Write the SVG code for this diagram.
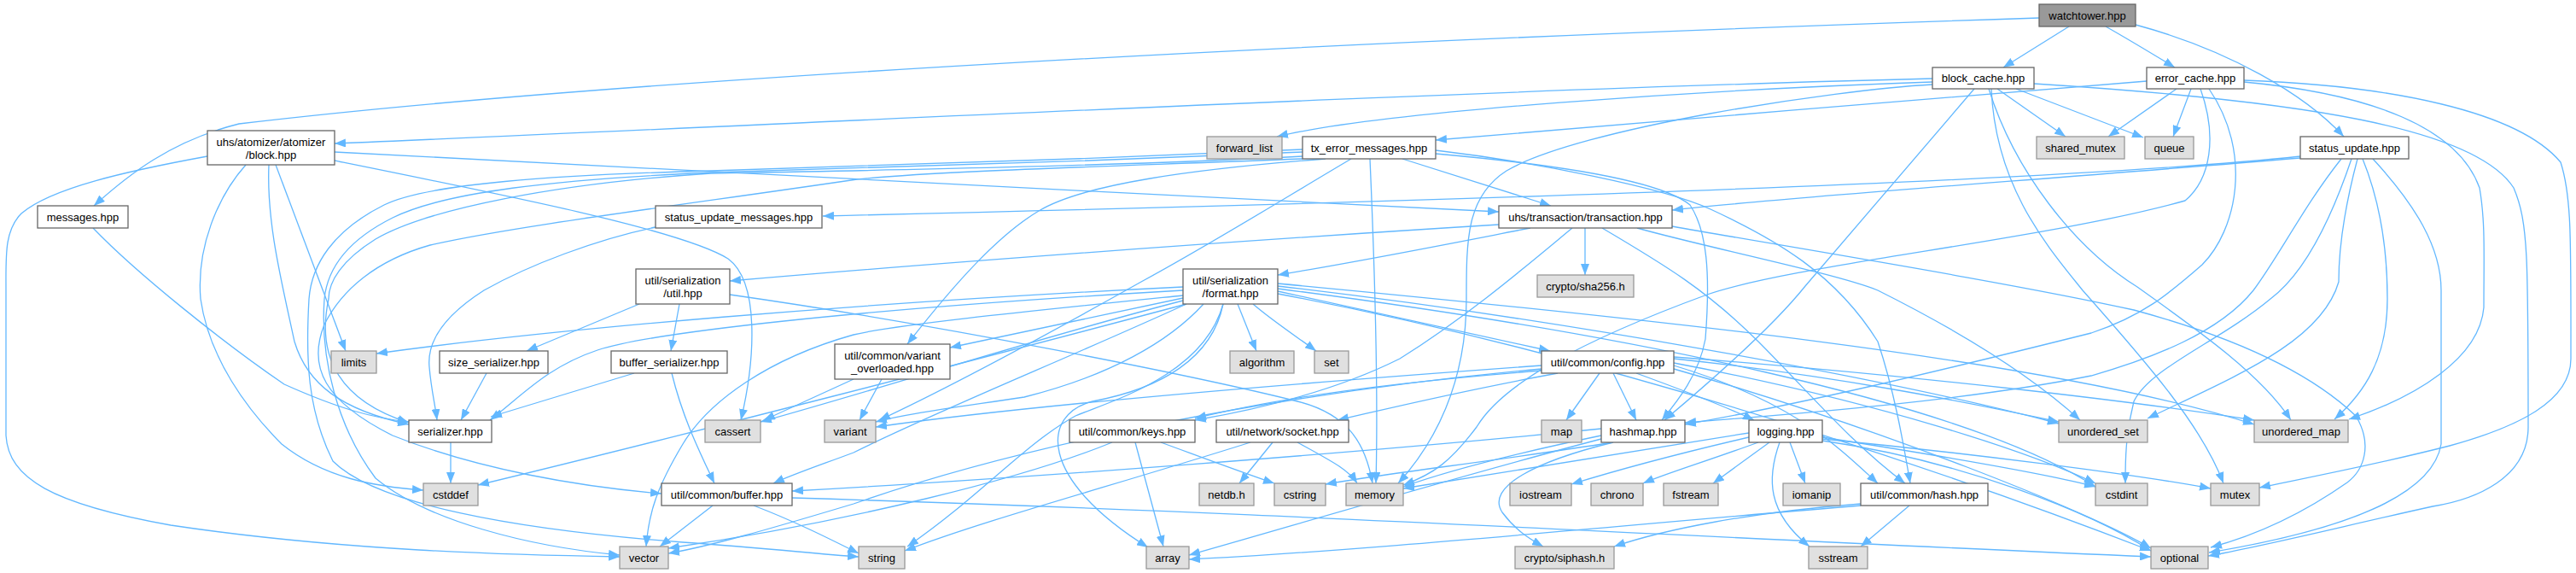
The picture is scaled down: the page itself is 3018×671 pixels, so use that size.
<svg xmlns="http://www.w3.org/2000/svg" width="3018" height="671" viewBox="0 0 3018 671">
<style>
.e{fill:none;stroke:#63b8ff;stroke-width:1.3;marker-end:url(#a)}
.n rect{fill:#fff;stroke:#666;stroke-width:1.3}
.x rect{fill:#e0e0e0;stroke:#999;stroke-width:1.3}
.r rect{fill:#999;stroke:#666;stroke-width:1.3}
text{font-family:"Liberation Sans",Arial,Helvetica,sans-serif;font-size:13px;text-anchor:middle;fill:#000}
</style>
<defs>
<marker id="a" viewBox="0 0 13 10" refX="13" refY="5" markerWidth="13" markerHeight="10" markerUnits="userSpaceOnUse" orient="auto"><path d="M0,0 L13,5 L0,10 z" fill="#63b8ff"/></marker>
</defs>
<rect width="3018" height="671" fill="#fff"/>
<g id="edges">
<path class="e" d="M2424,31 L2347,79"/>
<path class="e" d="M2467,31 C2490,44 2520,62 2548,79"/>
<path class="e" d="M2502,29 C2610,58 2700,110 2746,160"/>
<path class="e" d="M2389,21 C1500,50 700,95 280,145 C200,165 150,205 110,241"/>
<path class="e" d="M2264,92 C1700,106 900,147 392,168"/>
<path class="e" d="M2264,96 C2000,105 1620,130 1496,160"/>
<path class="e" d="M2340,104 L2420,160"/>
<path class="e" d="M2362,104 L2511,161"/>
<path class="e" d="M2313,104 L2115,335 C2075,385 2000,450 1950,492"/>
<path class="e" d="M2330,104 C2360,200 2430,290 2504,336 C2580,390 2650,440 2684,492"/>
<path class="e" d="M2333,104 C2338,220 2400,290 2440,340 C2520,430 2580,500 2605,566"/>
<path class="e" d="M2383,98 C2700,118 2900,150 2945,220 C2962,260 2962,300 2962,500 C2962,560 2900,585 2850,593 C2750,615 2650,640 2587,651"/>
<path class="e" d="M2264,99 C2150,105 1850,150 1765,200 C1718,230 1718,280 1718,350 C1718,450 1680,520 1638,566"/>
<path class="e" d="M2515,95 C2300,112 1900,146 1682,164"/>
<path class="e" d="M2550,104 L2470,160"/>
<path class="e" d="M2567,104 L2546,160"/>
<path class="e" d="M2588,104 C2640,180 2620,270 2580,310 C2540,345 2510,370 2450,390 C2250,440 2100,475 1974,497"/>
<path class="e" d="M2578,104 C2598,160 2590,210 2560,235 C2400,280 2100,310 2000,345 C1850,400 1760,450 1730,500 C1700,540 1680,555 1644,568"/>
<path class="e" d="M2629,96 C2780,110 2880,150 2905,220 C2912,260 2910,300 2910,360 C2905,420 2830,465 2752,491"/>
<path class="e" d="M2629,94 C2800,100 2950,130 3000,190 C3013,230 3012,280 3012,420 C3012,470 2950,500 2870,522 C2780,545 2700,560 2647,571"/>
<path class="e" d="M2695,183 C2400,215 1600,238 964,253"/>
<path class="e" d="M2695,185 C2400,210 2100,230 1959,246"/>
<path class="e" d="M2780,186 C2830,240 2860,290 2860,340 L2860,520 C2850,580 2750,620 2588,647"/>
<path class="e" d="M2768,186 C2790,240 2797,300 2797,350 C2797,420 2770,460 2735,491"/>
<path class="e" d="M2762,186 C2745,250 2740,300 2740,330 C2720,400 2620,440 2516,490"/>
<path class="e" d="M2743,186 C2700,240 2670,300 2640,340 C2600,390 2520,420 2450,440 C2300,470 2100,485 1974,495"/>
<path class="e" d="M2755,186 C2730,260 2700,320 2660,350 C2600,400 2520,430 2500,470 C2490,510 2490,540 2490,566"/>
<path class="e" d="M1756,263 C1400,285 1050,312 855,329"/>
<path class="e" d="M1793,267 C1700,285 1600,305 1497,322"/>
<path class="e" d="M1857,267 L1857,322"/>
<path class="e" d="M1842,267 C1790,310 1720,370 1640,420 C1560,460 1470,480 1400,492"/>
<path class="e" d="M1877,267 C1950,310 2000,340 2060,400 C2120,460 2170,520 2232,566"/>
<path class="e" d="M1918,267 C2000,290 2150,320 2200,340 C2300,390 2380,440 2437,492"/>
<path class="e" d="M1959,265 C2100,290 2350,330 2500,363 C2600,390 2700,430 2760,487 C2780,520 2770,550 2750,565 C2700,600 2650,625 2590,641"/>
<path class="e" d="M1643,186 L1817,241"/>
<path class="e" d="M1605,186 C1610,300 1615,450 1612,566"/>
<path class="e" d="M1553,186 C1400,198 1270,215 1217,247 C1170,275 1120,330 1063,403"/>
<path class="e" d="M1583,186 C1500,235 1420,285 1337,330 C1230,390 1120,450 1030,492"/>
<path class="e" d="M1682,180 C1850,195 1950,215 1980,240 C2000,270 2004,320 1998,397 C1990,440 1965,470 1947,492"/>
<path class="e" d="M1682,176 C1800,190 1950,220 2004,245 C2080,280 2150,320 2200,400 C2220,460 2230,520 2238,566"/>
<path class="e" d="M1526,183 C1300,195 1000,200 833,203 C650,215 500,245 440,280 C400,305 385,330 385,350 C370,420 400,470 479,495"/>
<path class="e" d="M1526,186 C1300,195 1100,200 1004,210 C800,240 600,265 504,287 C440,305 400,340 380,380 C360,430 380,470 460,510 C560,550 680,570 775,578"/>
<path class="e" d="M1526,178 C1300,188 1000,198 833,202 C650,210 520,225 460,255 C400,285 383,320 380,350 C375,420 395,500 440,560 C500,610 620,640 726,650"/>
<path class="e" d="M1526,175 C1300,185 1000,196 833,200 C650,205 500,215 450,240 C390,270 365,310 362,350 C358,420 360,480 390,540 C440,590 600,620 800,635 C900,642 950,648 1006,652"/>
<path class="e" d="M392,178 C700,195 1300,225 1756,248"/>
<path class="e" d="M392,188 C600,230 800,270 853,303 C890,330 885,420 868,492"/>
<path class="e" d="M288,193 C255,230 230,290 235,350 C245,420 290,480 330,520 C380,560 440,570 496,574"/>
<path class="e" d="M315,193 C312,260 330,330 345,400 C360,450 400,480 479,497"/>
<path class="e" d="M323,193 L405,411"/>
<path class="e" d="M243,183 C150,200 60,220 25,250 C5,270 7,300 7,340 L7,510 C10,560 60,590 200,615 C400,645 600,650 726,652"/>
<path class="e" d="M109,267 C160,320 260,400 333,450 C400,480 440,490 479,494"/>
<path class="e" d="M768,266 C700,280 620,310 567,340 C520,370 500,400 503,430 C505,455 510,475 512,492"/>
<path class="e" d="M749,356 L617,411"/>
<path class="e" d="M796,356 L786,411"/>
<path class="e" d="M855,345 C1100,380 1400,440 1520,470 C1580,485 1600,520 1608,566"/>
<path class="e" d="M1386,336 C1000,355 650,385 441,414"/>
<path class="e" d="M1386,340 C1000,362 760,390 700,410 C640,430 610,465 574,492"/>
<path class="e" d="M1386,349 L1113,407"/>
<path class="e" d="M1386,352 C1200,400 1050,450 891,494"/>
<path class="e" d="M1390,356 C1150,420 800,510 560,568"/>
<path class="e" d="M1386,346 C1200,365 1050,380 1000,392 C900,420 830,470 800,520 C770,570 760,600 757,640"/>
<path class="e" d="M1390,356 C1250,420 1100,480 1000,530 C960,545 930,555 906,566"/>
<path class="e" d="M1410,356 C1370,400 1300,440 1200,465 C1100,480 1060,485 1026,494"/>
<path class="e" d="M1433,356 C1410,440 1300,470 1260,487 C1200,520 1150,580 1063,640"/>
<path class="e" d="M1433,356 C1420,420 1360,455 1280,470 C1220,485 1215,560 1345,641"/>
<path class="e" d="M1450,356 L1472,411"/>
<path class="e" d="M1468,356 C1490,375 1520,395 1542,411"/>
<path class="e" d="M1497,341 L1816,411"/>
<path class="e" d="M1497,335 C1800,370 2200,440 2412,496"/>
<path class="e" d="M1497,332 C1900,370 2400,420 2641,497"/>
<path class="e" d="M1497,338 C1900,390 2300,470 2455,570"/>
<path class="e" d="M1497,344 C1900,420 2300,560 2520,645"/>
<path class="e" d="M1806,428 C1500,450 1200,475 1026,500"/>
<path class="e" d="M1806,432 C1500,460 1200,520 1000,590 C900,620 830,640 783,648"/>
<path class="e" d="M1806,434 C1600,450 1480,470 1400,490"/>
<path class="e" d="M1825,437 C1700,460 1620,480 1567,492"/>
<path class="e" d="M1874,437 L1835,492"/>
<path class="e" d="M1890,437 L1917,492"/>
<path class="e" d="M1917,437 C1980,460 2030,480 2055,492"/>
<path class="e" d="M1961,428 C2100,470 2150,520 2200,566"/>
<path class="e" d="M1961,420 C2150,440 2300,470 2412,494"/>
<path class="e" d="M1961,418 C2250,440 2500,470 2641,492"/>
<path class="e" d="M1961,425 C2200,470 2380,530 2455,566"/>
<path class="e" d="M1961,432 C2200,500 2450,600 2520,642"/>
<path class="e" d="M1303,518 C1200,560 1000,610 783,642"/>
<path class="e" d="M1330,518 L1363,640"/>
<path class="e" d="M1360,518 C1420,540 1460,555 1493,566"/>
<path class="e" d="M1491,518 L1452,566"/>
<path class="e" d="M1520,518 C1560,540 1580,550 1590,566"/>
<path class="e" d="M1465,518 C1300,570 1150,610 1060,645"/>
<path class="e" d="M1876,502 C1600,530 1200,560 928,575"/>
<path class="e" d="M1876,510 C1780,530 1700,550 1644,570"/>
<path class="e" d="M1890,518 C1750,540 1620,555 1553,567"/>
<path class="e" d="M1890,518 C1800,540 1740,570 1760,600 C1775,620 1790,630 1808,640"/>
<path class="e" d="M1876,514 C1700,560 1500,620 1393,650"/>
<path class="e" d="M2049,507 C1900,530 1750,555 1644,572"/>
<path class="e" d="M2049,512 C1950,535 1880,555 1841,567"/>
<path class="e" d="M2060,518 C2000,540 1950,555 1925,566"/>
<path class="e" d="M2073,518 L2007,566"/>
<path class="e" d="M2097,518 L2115,566"/>
<path class="e" d="M2085,518 C2070,560 2070,600 2120,640"/>
<path class="e" d="M2135,512 C2250,530 2400,555 2455,570"/>
<path class="e" d="M2135,514 C2300,530 2500,555 2590,572"/>
<path class="e" d="M2135,516 C2300,540 2450,600 2520,645"/>
<path class="e" d="M2180,590 C2050,600 1950,620 1891,640"/>
<path class="e" d="M2237,592 L2180,640"/>
<path class="e" d="M2180,592 C1900,615 1600,645 1393,655"/>
<path class="e" d="M835,592 L773,640"/>
<path class="e" d="M883,592 C930,610 970,630 1006,648"/>
<path class="e" d="M928,583 C1500,600 2000,630 2520,652"/>
<path class="e" d="M743,437 L575,488"/>
<path class="e" d="M787,437 C800,490 820,530 837,566"/>
<path class="e" d="M570,437 L540,492"/>
<path class="e" d="M528,518 L528,566"/>
<path class="e" d="M1000,444 L895,492"/>
<path class="e" d="M1033,444 L1007,492"/>
</g>
<g id="watchtower" class="r"><rect x="2389" y="5" width="113" height="26"/><text x="2445.5" y="22.5">watchtower.hpp</text></g>
<g id="block_cache" class="n"><rect x="2264" y="79" width="119" height="25"/><text x="2323.5" y="96">block_cache.hpp</text></g>
<g id="error_cache" class="n"><rect x="2515" y="79" width="114" height="25"/><text x="2572" y="96">error_cache.hpp</text></g>
<g id="atomizer_block" class="n"><rect x="243" y="153" width="149" height="40"/><text x="317.5" y="171">uhs/atomizer/atomizer</text><text x="317.5" y="186">/block.hpp</text></g>
<g id="tx_error_messages" class="n"><rect x="1526" y="160" width="156" height="26"/><text x="1604" y="177.5">tx_error_messages.hpp</text></g>
<g id="status_update" class="n"><rect x="2695" y="160" width="127" height="26"/><text x="2758.5" y="177.5">status_update.hpp</text></g>
<g id="messages" class="n"><rect x="44" y="241" width="106" height="26"/><text x="97" y="258.5">messages.hpp</text></g>
<g id="status_update_messages" class="n"><rect x="768" y="241" width="195" height="26"/><text x="865.5" y="258.5">status_update_messages.hpp</text></g>
<g id="transaction" class="n"><rect x="1756" y="241" width="203" height="26"/><text x="1857.5" y="258.5">uhs/transaction/transaction.hpp</text></g>
<g id="ser_util" class="n"><rect x="745" y="315" width="110" height="41"/><text x="800" y="333">util/serialization</text><text x="800" y="348">/util.hpp</text></g>
<g id="format" class="n"><rect x="1386" y="315" width="111" height="41"/><text x="1441.5" y="333">util/serialization</text><text x="1441.5" y="348">/format.hpp</text></g>
<g id="size_serializer" class="n"><rect x="515" y="411" width="127" height="26"/><text x="578.5" y="428.5">size_serializer.hpp</text></g>
<g id="buffer_serializer" class="n"><rect x="716" y="411" width="136" height="26"/><text x="784" y="428.5">buffer_serializer.hpp</text></g>
<g id="variant_overloaded" class="n"><rect x="978" y="403" width="135" height="41"/><text x="1045.5" y="421">util/common/variant</text><text x="1045.5" y="436">_overloaded.hpp</text></g>
<g id="config" class="n"><rect x="1806" y="411" width="155" height="26"/><text x="1883.5" y="428.5">util/common/config.hpp</text></g>
<g id="serializer" class="n"><rect x="479" y="492" width="97" height="26"/><text x="527.5" y="509.5">serializer.hpp</text></g>
<g id="keys" class="n"><rect x="1253" y="492" width="147" height="26"/><text x="1326.5" y="509.5">util/common/keys.hpp</text></g>
<g id="socket" class="n"><rect x="1425" y="492" width="155" height="26"/><text x="1502.5" y="509.5">util/network/socket.hpp</text></g>
<g id="hashmap" class="n"><rect x="1876" y="492" width="98" height="26"/><text x="1925" y="509.5">hashmap.hpp</text></g>
<g id="logging" class="n"><rect x="2049" y="492" width="86" height="26"/><text x="2092" y="509.5">logging.hpp</text></g>
<g id="buffer" class="n"><rect x="775" y="566" width="153" height="26"/><text x="851.5" y="583.5">util/common/buffer.hpp</text></g>
<g id="hash" class="n"><rect x="2180" y="566" width="149" height="26"/><text x="2254.5" y="583.5">util/common/hash.hpp</text></g>
<g id="forward_list" class="x"><rect x="1414" y="160" width="88" height="26"/><text x="1458" y="177.5">forward_list</text></g>
<g id="shared_mutex" class="x"><rect x="2386" y="160" width="103" height="26"/><text x="2437.5" y="177.5">shared_mutex</text></g>
<g id="queue" class="x"><rect x="2513" y="160" width="57" height="26"/><text x="2541.5" y="177.5">queue</text></g>
<g id="sha256" class="x"><rect x="1801" y="322" width="113" height="26"/><text x="1857.5" y="339.5">crypto/sha256.h</text></g>
<g id="limits" class="x"><rect x="388" y="411" width="53" height="26"/><text x="414.5" y="428.5">limits</text></g>
<g id="algorithm" class="x"><rect x="1441" y="411" width="75" height="26"/><text x="1478.5" y="428.5">algorithm</text></g>
<g id="set" class="x"><rect x="1540" y="411" width="40" height="26"/><text x="1560" y="428.5">set</text></g>
<g id="cassert" class="x"><rect x="826" y="492" width="65" height="26"/><text x="858.5" y="509.5">cassert</text></g>
<g id="variant" class="x"><rect x="966" y="492" width="60" height="26"/><text x="996" y="509.5">variant</text></g>
<g id="map" class="x"><rect x="1806" y="492" width="47" height="26"/><text x="1829.5" y="509.5">map</text></g>
<g id="unordered_set" class="x"><rect x="2412" y="492" width="104" height="26"/><text x="2464" y="509.5">unordered_set</text></g>
<g id="unordered_map" class="x"><rect x="2641" y="492" width="110" height="26"/><text x="2696" y="509.5">unordered_map</text></g>
<g id="cstddef" class="x"><rect x="496" y="566" width="64" height="26"/><text x="528" y="583.5">cstddef</text></g>
<g id="netdb" class="x"><rect x="1405" y="566" width="64" height="26"/><text x="1437" y="583.5">netdb.h</text></g>
<g id="cstring" class="x"><rect x="1493" y="566" width="60" height="26"/><text x="1523" y="583.5">cstring</text></g>
<g id="memory" class="x"><rect x="1577" y="566" width="67" height="26"/><text x="1610.5" y="583.5">memory</text></g>
<g id="iostream" class="x"><rect x="1769" y="566" width="72" height="26"/><text x="1805" y="583.5">iostream</text></g>
<g id="chrono" class="x"><rect x="1864" y="566" width="61" height="26"/><text x="1894.5" y="583.5">chrono</text></g>
<g id="fstream" class="x"><rect x="1949" y="566" width="64" height="26"/><text x="1981" y="583.5">fstream</text></g>
<g id="iomanip" class="x"><rect x="2089" y="566" width="67" height="26"/><text x="2122.5" y="583.5">iomanip</text></g>
<g id="cstdint" class="x"><rect x="2455" y="566" width="61" height="26"/><text x="2485.5" y="583.5">cstdint</text></g>
<g id="mutex" class="x"><rect x="2590" y="566" width="57" height="26"/><text x="2618.5" y="583.5">mutex</text></g>
<g id="vector" class="x"><rect x="726" y="640" width="57" height="26"/><text x="754.5" y="657.5">vector</text></g>
<g id="string" class="x"><rect x="1006" y="640" width="54" height="26"/><text x="1033" y="657.5">string</text></g>
<g id="array" class="x"><rect x="1343" y="640" width="50" height="26"/><text x="1368" y="657.5">array</text></g>
<g id="siphash" class="x"><rect x="1775" y="640" width="116" height="26"/><text x="1833" y="657.5">crypto/siphash.h</text></g>
<g id="sstream" class="x"><rect x="2119" y="640" width="69" height="26"/><text x="2153.5" y="657.5">sstream</text></g>
<g id="optional" class="x"><rect x="2520" y="640" width="67" height="26"/><text x="2553.5" y="657.5">optional</text></g>
</svg>
